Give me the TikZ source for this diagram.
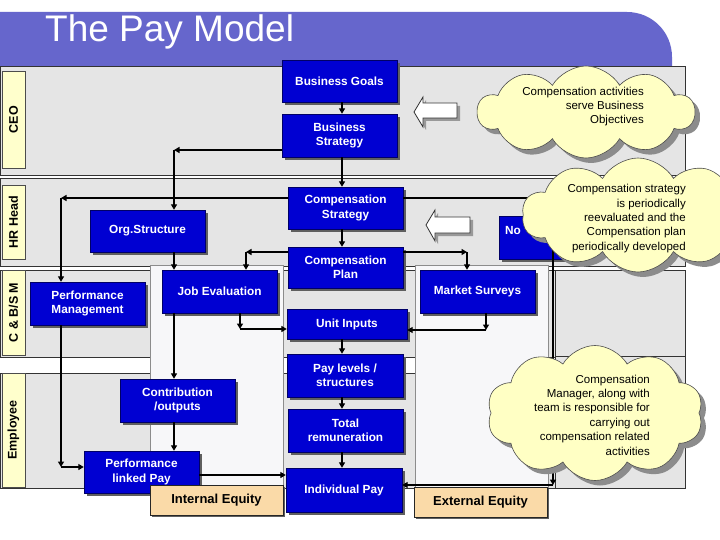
\documentclass[tikz,border=0pt]{standalone}
\usepackage{fontspec}
\setmainfont{Liberation Sans}
\usetikzlibrary{arrows.meta,shapes.symbols,shadows}
\definecolor{titlecol}{RGB}{102,102,204}
\definecolor{boxblue}{RGB}{0,0,210}
\definecolor{bandgray}{RGB}{229,229,229}
\definecolor{colwhite}{RGB}{247,247,249}
\definecolor{lanelabel}{RGB}{255,255,204}
\definecolor{cloudfill}{RGB}{255,255,196}
\definecolor{peach}{RGB}{250,218,168}
\definecolor{shadowgray}{RGB}{95,95,95}
\tikzset{
  bluebox/.style={rectangle, fill=boxblue, draw=blue!40!black, line width=0.4pt, text=white,
    font=\bfseries\fontsize{11.8}{14.5}\selectfont, align=center, inner sep=1pt,
    minimum width=115pt, minimum height=43pt,
    drop shadow={shadow xshift=3pt, shadow yshift=-3pt, fill=shadowgray, opacity=1}},
  peachbox/.style={rectangle, fill=peach, draw=black!85, line width=0.6pt, text=black,
    font=\bfseries\fontsize{13}{15}\selectfont, minimum width=133pt, minimum height=30pt, inner sep=1pt,
    drop shadow={shadow xshift=2pt, shadow yshift=-2pt, fill=shadowgray, opacity=1}},
  lanelab/.style={rectangle, fill=lanelabel, draw=black!70, line width=0.6pt, rotate=90,
    font=\bfseries\fontsize{12.5}{14}\selectfont, minimum height=23pt, inner sep=0pt},
  band/.style={fill=bandgray, draw=black!80, line width=0.7pt},
  column/.style={fill=colwhite, draw=black!45, line width=0.7pt},
  arr/.style={line width=1.7pt, black, -{Triangle[length=5.5pt,width=6pt]}},
  plain/.style={line width=1.7pt, black},
  cloudstyle/.style={cloud, cloud puffs=10, cloud puff arc=120, cloud ignores aspect,
    draw=black!70, fill=cloudfill, line width=0.6pt, inner sep=0pt,
    drop shadow={shadow xshift=5pt, shadow yshift=-5pt, fill=black!45, opacity=1}},
  cloudtext/.style={anchor=east, align=right, font=\fontsize{11.5}{14.4}\selectfont, inner sep=0pt},
  blockarrow/.style={fill=white, draw=black!80, line width=0.8pt},
  blockshadow/.style={fill=black!40}
}
\begin{document}
\begin{tikzpicture}[x=1pt,y=-1pt]
\useasboundingbox (0,0) rectangle (720,540);
\fill[white] (0,0) rectangle (720,540);

% title bar
\fill[titlecol] (0,66) -- (0,12) -- (627,12) .. controls (652,12) and (672,32) .. (672,57) -- (672,66) -- cycle;
\node[anchor=base west, text=white, font=\fontsize{37}{40}\selectfont, inner sep=0pt] (title) at (45,42) {The Pay Model};

% swimlanes
\draw[band] (0,66) rectangle (685,175);
\draw[band] (0,178) rectangle (685,266);
\draw[band] (0,270) rectangle (685,357);
\draw[band] (0,373) rectangle (685,488);

\node[lanelab, minimum width=97pt] (lceo) at (13.5,119.5) {CEO};
\node[lanelab, minimum width=74pt] (lhr) at (13.5,222) {HR Head};
\node[lanelab, minimum width=85pt] (lcb) at (13.5,312.5) {C \& B/S M};
\node[lanelab, minimum width=114pt] (lemp) at (13.5,430) {Employee};

% columns
\draw[column] (150,265) rectangle (283,490);
\draw[column] (415,265) rectangle (548,487);
\draw[band] (555,270) rectangle (685,488);
\draw[black!80, line width=0.7pt] (555,356) -- (685,356);

% named corner points
\coordinate (spine) at (342,0);
\coordinate (k1) at (174,150);
\coordinate (k2) at (61,198);
\coordinate (k3) at (246,252);
\coordinate (k4) at (467,252);
\coordinate (k5) at (486,330);
\coordinate (k6) at (240,329);
\coordinate (k7) at (61,467);
\coordinate (k8) at (553,198);
\coordinate (k9) at (553,485);
\coordinate (pj) at (199,475);

% boxes
\node[bluebox, minimum height=42pt] (bg) at (339.5,81) {Business Goals};
\node[bluebox] (bs) at (339.5,135.5) {Business\\Strategy};
\node[bluebox, minimum height=42pt] (cs) at (345.5,208) {Compensation\\Strategy};
\node[bluebox, minimum height=41pt] (cp) at (345.5,267.5) {Compensation\\Plan};
\node[bluebox, minimum width=120pt, minimum height=30pt] (ui) at (347,324) {Unit Inputs};
\node[bluebox, minimum width=116pt] (pl) at (345,375.5) {Pay levels /\\structures};
\node[bluebox] (tr) at (345.5,430.5) {Total\\remuneration};
\node[bluebox, minimum width=116pt, minimum height=44pt] (ip) at (344,490) {Individual Pay};
\node[bluebox, minimum height=42pt] (org) at (147.5,231) {Org.Structure};
\node[bluebox] (je) at (219.5,291.5) {Job Evaluation};
\node[bluebox] (pm) at (87.5,303.5) {Performance\\Management};
\node[bluebox] (ms) at (477.5,291.5) {Market Surveys};
\node[bluebox] (co) at (177.5,400.5) {Contribution\\/outputs};
\node[bluebox, minimum height=42pt] (plp) at (141.5,472) {Performance\\linked Pay};
\node[bluebox, minimum width=70pt] (nb) at (534,237.5) {};
\node[text=white, font=\bfseries\fontsize{11.8}{14.5}\selectfont, inner sep=0pt] (nbt) at (513,230) {No};

% connectors
\draw[arr] (bg.south -| spine) -- (bs.north -| spine);
\draw[arr] (bs.west |- k1) -- (k1);
\draw[arr] (k1) -- (org.north -| k1);
\draw[arr] (bs.south -| spine) -- (cs.north -| spine);
\draw[arr] (cs.west |- k2) -- (k2);
\draw[arr] (k2) -- (pm.north -| k2);
\draw[arr] (org.south -| k1) -- (je.north -| k1);
\draw[arr] (cs.south -| spine) -- (cp.north -| spine);
\draw[arr] (cp.west |- k3) -- (k3);
\draw[arr] (k3) -- (je.north -| k3);
\draw[arr] (cp.east |- k4) -- (k4);
\draw[arr] (k4) -- (ms.north -| k4);
\draw[arr] (ms.south -| k5) -- (k5);
\draw[arr] (k5) -- (ui.east |- k5);
\draw[arr] (je.south -| k6) -- (k6);
\draw[arr] (k6) -- (ui.west |- k6);
\draw[arr] (ui.south -| spine) -- (pl.north -| spine);
\draw[arr] (pl.south -| spine) -- (tr.north -| spine);
\draw[arr] (tr.south -| spine) -- (ip.north -| spine);
\draw[arr] (je.south -| k1) -- (co.north -| k1);
\draw[arr] (co.south -| k1) -- (plp.north -| k1);
\draw[arr] (pm.south -| k2) -- (k7);
\draw[arr] (k7) -- (plp.west |- k7);
\draw[arr] (plp.east |- pj) -- (ip.west |- pj);
\draw[plain] (cs.east |- k8) -- (k8);
\draw[arr] (k8) -- (k9);
\draw[arr] (k9) -- (ip.east |- k9);

% peach labels
\node[peachbox] (ie) at (216.5,500) {Internal Equity};
\node[peachbox] (ee) at (480.5,502) {External Equity};

% block arrows
\fill[blockshadow] (417,115) -- (426,100) -- (426,106) -- (460,106) -- (460,121) -- (426,121) -- (426,130) -- cycle;
\draw[blockarrow] (414,112) -- (423,97) -- (423,103) -- (457,103) -- (457,118) -- (423,118) -- (423,127) -- cycle;
\fill[blockshadow] (429,228) -- (438,213) -- (438,220) -- (473,220) -- (473,236) -- (438,236) -- (438,244) -- cycle;
\draw[blockarrow] (426,225) -- (435,210) -- (435,217) -- (470,217) -- (470,233) -- (435,233) -- (435,241) -- cycle;

% clouds
\node[cloudstyle, minimum width=217pt, minimum height=92pt] (c1) at (586,112) {};
\node[cloudtext] (c1t) at (644,106.5) {Compensation activities\\serve Business\\Objectives};
\node[cloudstyle, minimum width=232pt, minimum height=114pt] (c2) at (638,215) {};
\node[cloudtext] (c2t) at (686,218.5) {Compensation strategy\\is periodically\\reevaluated and the\\Compensation plan\\periodically developed};
\node[cloudstyle, minimum width=216pt, minimum height=135pt] (c3) at (595,413) {};
\node[cloudtext] (c3t) at (650,415) {Compensation\\Manager, along with\\team is responsible for\\carrying out\\compensation related\\activities};
\end{tikzpicture}
\end{document}
